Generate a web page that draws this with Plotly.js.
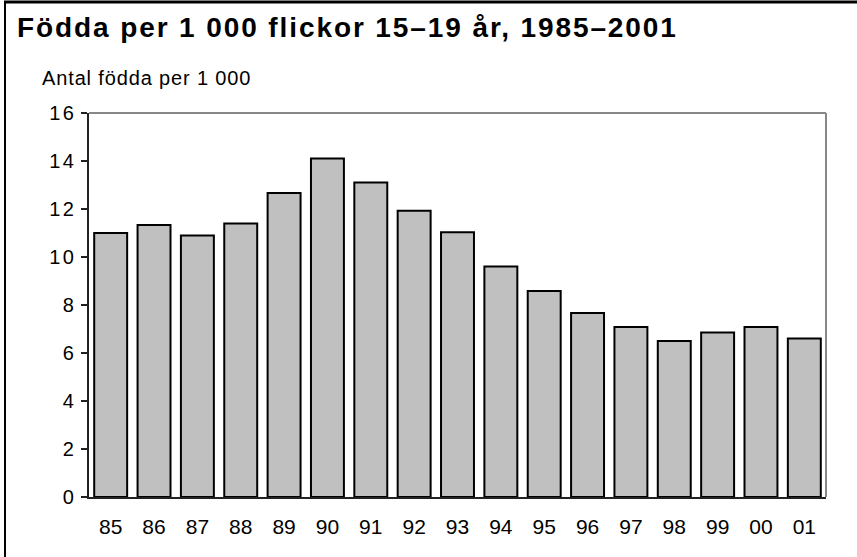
<!DOCTYPE html>
<html>
<head>
<meta charset="utf-8">
<script src="https://cdn.plot.ly/plotly-3.0.1.min.js"></script>
<style>
html,body{margin:0;padding:0;background:#fff;}
#chart{width:857px;height:557px;}
#chart .gtitle{letter-spacing:1.9px;}
#chart .annotation-text{letter-spacing:0.85px;}
#chart .ytick text{letter-spacing:2.2px;}
</style>
</head>
<body>
<div id="chart"></div>
<script>
const years = ['85','86','87','88','89','90','91','92','93','94','95','96','97','98','99','00','01'];
const births = [11.0,11.33,10.9,11.4,12.67,14.1,13.1,11.93,11.03,9.6,8.58,7.67,7.08,6.5,6.85,7.08,6.6];
const titleText = 'Födda per 1 000 flickor 15–19 år, 1985–2001';
const yLabel = 'Antal födda per 1 000';
const yTicks = [0,2,4,6,8,10,12,14,16];

const W = 857, H = 557;
const L = 89, R = 826, T = 113, B = 497;
const pw = R - L, ph = B - T;
const px = v => (v - L) / pw;
const py = v => (B - v) / ph;

const font = '"Liberation Sans", Arial, Helvetica, sans-serif';

const trace = {
  type: 'bar',
  x: years,
  y: births,
  marker: {color: '#c0c0c0', line: {color: '#000', width: 2}},
  hoverinfo: 'none'
};

const layout = {
  width: W, height: H,
  margin: {l: L, r: W - R, t: T, b: H - B, pad: 0},
  paper_bgcolor: '#fff', plot_bgcolor: '#fff',
  showlegend: false,
  bargap: 0.24,
  font: {family: font, color: '#000', size: 19},
  title: {text: '<b>' + titleText + '</b>', font: {family: font, size: 28, color: '#000'},
          xref: 'container', yref: 'container', x: 17 / W, xanchor: 'left', y: 1 - 27 / H, yanchor: 'middle'},
  xaxis: {type: 'category', showgrid: false, showline: true, linecolor: '#222', linewidth: 2,
          ticks: '', tickfont: {size: 21}, ticklabelstandoff: 10, range: [-0.5, 16.5], fixedrange: true},
  yaxis: {range: [0, 16], tickvals: yTicks, showgrid: false, showline: true, linecolor: '#222', linewidth: 2,
          ticks: 'outside', ticklen: 6, tickwidth: 1.5, tickcolor: '#222', tickfont: {size: 20},
          ticklabelstandoff: 1, zeroline: false, fixedrange: true},
  annotations: [{
    text: yLabel, xref: 'paper', yref: 'paper', x: px(49), y: py(78), xanchor: 'left', yanchor: 'middle',
    showarrow: false, font: {family: font, size: 20, color: '#000'}
  }],
  shapes: [
    {type: 'line', xref: 'paper', yref: 'paper', x0: 0, x1: 1, y0: 1, y1: 1, line: {color: '#888', width: 2}},
    {type: 'line', xref: 'paper', yref: 'paper', x0: 1, x1: 1, y0: 0, y1: 1, line: {color: '#888', width: 2}},
    {type: 'line', xref: 'paper', yref: 'paper', x0: px(4), x1: px(857), y0: py(2), y1: py(2), line: {color: '#000', width: 3}},
    {type: 'line', xref: 'paper', yref: 'paper', x0: px(5), x1: px(5), y0: py(1), y1: py(557), line: {color: '#000', width: 2}}
  ]
};

Plotly.newPlot('chart', [trace], layout, {staticPlot: true, displayModeBar: false});
</script>
</body>
</html>
